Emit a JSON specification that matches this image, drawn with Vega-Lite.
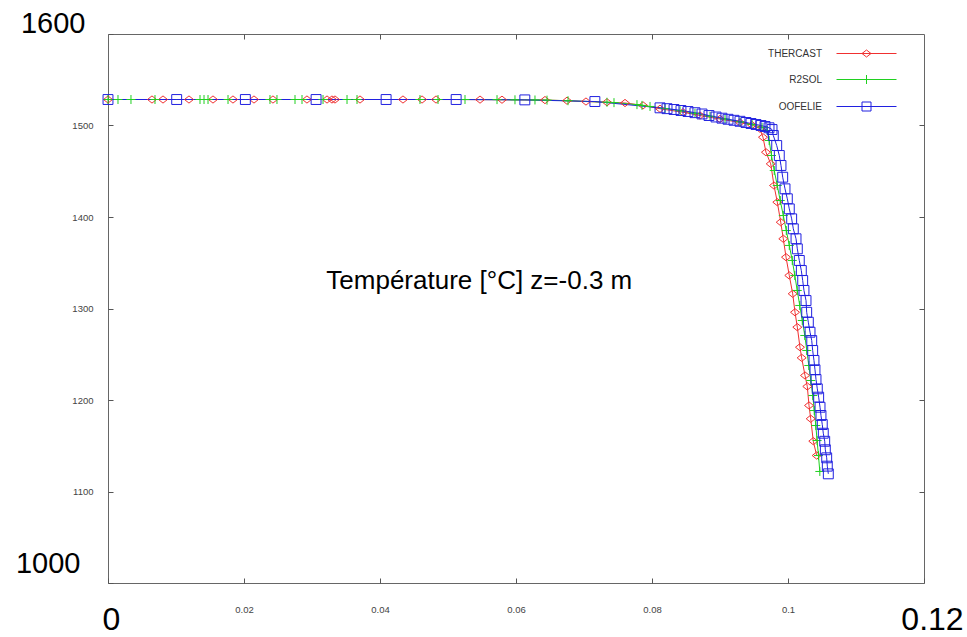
{
 "$schema": "https://vega.github.io/schema/vega-lite/v6.json",
 "width": 816, "height": 549,
 "autosize": {"type": "none"},
 "padding": {"left": 108, "top": 34, "right": 43, "bottom": 54},
 "background": "white",
 "config": {"view": {"stroke": "#666", "strokeWidth": 1}, "font": "Liberation Sans"},
 "datasets": {"d": [
  {"s":"THERCAST","x":0,"y":1528.4},{"s":"THERCAST","x":0.00647,"y":1528.4},{"s":"THERCAST","x":0.00809,"y":1528.4},{"s":"THERCAST","x":0.01191,"y":1528.4},{"s":"THERCAST","x":0.01544,"y":1528.4},{"s":"THERCAST","x":0.01838,"y":1528.4},{"s":"THERCAST","x":0.02147,"y":1528.4},{"s":"THERCAST","x":0.02426,"y":1528.4},{"s":"THERCAST","x":0.02926,"y":1528.4},{"s":"THERCAST","x":0.03221,"y":1528.4},{"s":"THERCAST","x":0.03294,"y":1528.4},{"s":"THERCAST","x":0.03338,"y":1528.4},{"s":"THERCAST","x":0.03706,"y":1528.4},{"s":"THERCAST","x":0.04338,"y":1528.4},{"s":"THERCAST","x":0.04618,"y":1528.4},{"s":"THERCAST","x":0.04824,"y":1528.4},{"s":"THERCAST","x":0.05471,"y":1528.3},{"s":"THERCAST","x":0.05794,"y":1528.2},{"s":"THERCAST","x":0.06426,"y":1527.8},{"s":"THERCAST","x":0.0675,"y":1527.1},{"s":"THERCAST","x":0.07029,"y":1526.2},{"s":"THERCAST","x":0.07338,"y":1525.4},{"s":"THERCAST","x":0.07603,"y":1524.6},{"s":"THERCAST","x":0.07868,"y":1522.0},{"s":"THERCAST","x":0.08118,"y":1518.3},{"s":"THERCAST","x":0.08456,"y":1514.5},{"s":"THERCAST","x":0.08706,"y":1510.9},{"s":"THERCAST","x":0.09,"y":1507.1},{"s":"THERCAST","x":0.09294,"y":1503.3},{"s":"THERCAST","x":0.09471,"y":1500.5},{"s":"THERCAST","x":0.09588,"y":1496.4},{"s":"THERCAST","x":0.09632,"y":1487.2},{"s":"THERCAST","x":0.09676,"y":1470.8},{"s":"THERCAST","x":0.09746,"y":1458.1},{"s":"THERCAST","x":0.09794,"y":1434.4},{"s":"THERCAST","x":0.09843,"y":1416.2},{"s":"THERCAST","x":0.09893,"y":1394.3},{"s":"THERCAST","x":0.09931,"y":1376.2},{"s":"THERCAST","x":0.09971,"y":1356.1},{"s":"THERCAST","x":0.10019,"y":1336.1},{"s":"THERCAST","x":0.10069,"y":1316.1},{"s":"THERCAST","x":0.10103,"y":1295.9},{"s":"THERCAST","x":0.10137,"y":1279.6},{"s":"THERCAST","x":0.10176,"y":1257.7},{"s":"THERCAST","x":0.10201,"y":1246.1},{"s":"THERCAST","x":0.1025,"y":1226.8},{"s":"THERCAST","x":0.10284,"y":1214.8},{"s":"THERCAST","x":0.10309,"y":1194.0},{"s":"THERCAST","x":0.10334,"y":1179.5},{"s":"THERCAST","x":0.10372,"y":1155.0},{"s":"THERCAST","x":0.10422,"y":1139.3},
  {"s":"R2SOL","x":0,"y":1528.4},{"s":"R2SOL","x":0.00147,"y":1528.4},{"s":"R2SOL","x":0.00338,"y":1528.4},{"s":"R2SOL","x":0.00691,"y":1528.4},{"s":"R2SOL","x":0.01353,"y":1528.4},{"s":"R2SOL","x":0.01412,"y":1528.4},{"s":"R2SOL","x":0.01471,"y":1528.4},{"s":"R2SOL","x":0.01765,"y":1528.4},{"s":"R2SOL","x":0.02382,"y":1528.4},{"s":"R2SOL","x":0.02485,"y":1528.4},{"s":"R2SOL","x":0.0275,"y":1528.4},{"s":"R2SOL","x":0.02853,"y":1528.4},{"s":"R2SOL","x":0.03162,"y":1528.4},{"s":"R2SOL","x":0.03515,"y":1528.4},{"s":"R2SOL","x":0.03662,"y":1528.4},{"s":"R2SOL","x":0.04588,"y":1528.4},{"s":"R2SOL","x":0.04853,"y":1528.4},{"s":"R2SOL","x":0.0525,"y":1528.4},{"s":"R2SOL","x":0.05721,"y":1528.3},{"s":"R2SOL","x":0.05985,"y":1528.1},{"s":"R2SOL","x":0.06279,"y":1527.9},{"s":"R2SOL","x":0.06456,"y":1527.7},{"s":"R2SOL","x":0.06765,"y":1527.1},{"s":"R2SOL","x":0.07338,"y":1525.4},{"s":"R2SOL","x":0.07441,"y":1525.0},{"s":"R2SOL","x":0.07779,"y":1522.8},{"s":"R2SOL","x":0.07853,"y":1522.0},{"s":"R2SOL","x":0.07971,"y":1520.8},{"s":"R2SOL","x":0.08191,"y":1518.6},{"s":"R2SOL","x":0.08412,"y":1516.1},{"s":"R2SOL","x":0.08632,"y":1513.3},{"s":"R2SOL","x":0.08853,"y":1510.1},{"s":"R2SOL","x":0.09074,"y":1507.1},{"s":"R2SOL","x":0.09294,"y":1504.0},{"s":"R2SOL","x":0.09471,"y":1501.1},{"s":"R2SOL","x":0.09618,"y":1498.0},{"s":"R2SOL","x":0.09696,"y":1494.5},{"s":"R2SOL","x":0.09723,"y":1483.6},{"s":"R2SOL","x":0.09757,"y":1467.2},{"s":"R2SOL","x":0.09798,"y":1450.8},{"s":"R2SOL","x":0.09842,"y":1434.4},{"s":"R2SOL","x":0.09886,"y":1418.0},{"s":"R2SOL","x":0.09931,"y":1401.6},{"s":"R2SOL","x":0.09975,"y":1385.2},{"s":"R2SOL","x":0.10019,"y":1368.9},{"s":"R2SOL","x":0.10063,"y":1352.5},{"s":"R2SOL","x":0.101,"y":1336.1},{"s":"R2SOL","x":0.10136,"y":1319.7},{"s":"R2SOL","x":0.10173,"y":1303.3},{"s":"R2SOL","x":0.1021,"y":1286.9},{"s":"R2SOL","x":0.10247,"y":1270.5},{"s":"R2SOL","x":0.10276,"y":1254.1},{"s":"R2SOL","x":0.10306,"y":1237.7},{"s":"R2SOL","x":0.10335,"y":1221.3},{"s":"R2SOL","x":0.10364,"y":1204.9},{"s":"R2SOL","x":0.10386,"y":1188.5},{"s":"R2SOL","x":0.10409,"y":1172.1},{"s":"R2SOL","x":0.10428,"y":1155.7},{"s":"R2SOL","x":0.10448,"y":1139.3},{"s":"R2SOL","x":0.10468,"y":1121.9},
  {"s":"OOFELIE","x":0,"y":1528.4},{"s":"OOFELIE","x":0.0101,"y":1528.4},{"s":"OOFELIE","x":0.0202,"y":1528.4},{"s":"OOFELIE","x":0.0306,"y":1528.4},{"s":"OOFELIE","x":0.0409,"y":1528.4},{"s":"OOFELIE","x":0.0512,"y":1528.4},{"s":"OOFELIE","x":0.0613,"y":1528.0},{"s":"OOFELIE","x":0.0716,"y":1526.2},{"s":"OOFELIE","x":0.08118,"y":1519.3},{"s":"OOFELIE","x":0.08221,"y":1518.4},{"s":"OOFELIE","x":0.08324,"y":1517.5},{"s":"OOFELIE","x":0.08426,"y":1516.4},{"s":"OOFELIE","x":0.08529,"y":1515.3},{"s":"OOFELIE","x":0.08632,"y":1514.0},{"s":"OOFELIE","x":0.08735,"y":1512.6},{"s":"OOFELIE","x":0.08838,"y":1510.9},{"s":"OOFELIE","x":0.08941,"y":1509.3},{"s":"OOFELIE","x":0.09029,"y":1508.0},{"s":"OOFELIE","x":0.09118,"y":1506.8},{"s":"OOFELIE","x":0.09206,"y":1505.7},{"s":"OOFELIE","x":0.09294,"y":1504.6},{"s":"OOFELIE","x":0.09382,"y":1503.3},{"s":"OOFELIE","x":0.09456,"y":1502.2},{"s":"OOFELIE","x":0.09529,"y":1501.1},{"s":"OOFELIE","x":0.09603,"y":1500.0},{"s":"OOFELIE","x":0.09662,"y":1498.9},{"s":"OOFELIE","x":0.09721,"y":1497.5},{"s":"OOFELIE","x":0.09765,"y":1495.6},{"s":"OOFELIE","x":0.09784,"y":1489.1},{"s":"OOFELIE","x":0.09834,"y":1478.1},{"s":"OOFELIE","x":0.09872,"y":1467.2},{"s":"OOFELIE","x":0.09897,"y":1456.3},{"s":"OOFELIE","x":0.09922,"y":1443.5},{"s":"OOFELIE","x":0.09956,"y":1430.8},{"s":"OOFELIE","x":0.0999,"y":1419.9},{"s":"OOFELIE","x":0.10019,"y":1408.9},{"s":"OOFELIE","x":0.10054,"y":1398.0},{"s":"OOFELIE","x":0.10078,"y":1387.1},{"s":"OOFELIE","x":0.10118,"y":1376.2},{"s":"OOFELIE","x":0.10137,"y":1365.2},{"s":"OOFELIE","x":0.10166,"y":1352.5},{"s":"OOFELIE","x":0.10196,"y":1341.5},{"s":"OOFELIE","x":0.10216,"y":1330.6},{"s":"OOFELIE","x":0.10235,"y":1319.7},{"s":"OOFELIE","x":0.10265,"y":1308.7},{"s":"OOFELIE","x":0.10275,"y":1295.9},{"s":"OOFELIE","x":0.10299,"y":1285.0},{"s":"OOFELIE","x":0.10324,"y":1274.1},{"s":"OOFELIE","x":0.10349,"y":1265.0},{"s":"OOFELIE","x":0.10363,"y":1254.1},{"s":"OOFELIE","x":0.10382,"y":1243.2},{"s":"OOFELIE","x":0.10397,"y":1233.0},{"s":"OOFELIE","x":0.10412,"y":1222.4},{"s":"OOFELIE","x":0.10431,"y":1212.2},{"s":"OOFELIE","x":0.10451,"y":1203.1},{"s":"OOFELIE","x":0.10471,"y":1192.1},{"s":"OOFELIE","x":0.10485,"y":1183.1},{"s":"OOFELIE","x":0.10504,"y":1173.2},{"s":"OOFELIE","x":0.10519,"y":1163.7},{"s":"OOFELIE","x":0.1054,"y":1154.9},{"s":"OOFELIE","x":0.10549,"y":1145.6},{"s":"OOFELIE","x":0.10569,"y":1136.8},{"s":"OOFELIE","x":0.10578,"y":1127.7},{"s":"OOFELIE","x":0.10593,"y":1119.3}
 ]},
 "layer": [
  {
   "data": {"name": "d"},
   "transform": [{"filter": "datum.s == 'THERCAST'"}],
   "mark": {"type": "line", "strokeWidth": 1, "color": "#f03030"},
   "encoding": {
    "x": {"field": "x", "type": "quantitative", "scale": {"domain": [0, 0.12], "nice": false, "zero": false},
     "axis": {"orient": "bottom", "values": [0, 0.02, 0.04, 0.06, 0.08, 0.1, 0.12], "format": ".2~f", "title": null, "domain": false, "grid": false, "tickSize": -5, "tickColor": "#555", "labelFont": "Liberation Sans", "labelOverlap": false, "labelFlush": false, "labelBound": false,
      "labelFontSize": {"condition": {"test": "datum.value == 0 || datum.value == 0.12", "value": 32}, "value": 9.5},
      "labelColor": {"condition": {"test": "datum.value == 0 || datum.value == 0.12", "value": "#000"}, "value": "#444"},
      "labelOffset": {"condition": [{"test": "datum.value == 0", "value": 3}, {"test": "datum.value == 0.12", "value": 8}], "value": 0},
      "labelPadding": 26}},
    "y": {"field": "y", "type": "quantitative", "scale": {"domain": [1000, 1600], "nice": false, "zero": false},
     "axis": {"orient": "left", "values": [1000, 1100, 1200, 1300, 1400, 1500, 1600], "format": "d", "title": null, "domain": false, "grid": false, "tickSize": -5, "tickColor": "#555", "labelFont": "Liberation Sans", "labelOverlap": false, "labelFlush": false, "labelBound": false,
      "labelFontSize": {"condition": {"test": "datum.value == 1600 || datum.value == 1000", "value": 29}, "value": 9.5},
      "labelColor": {"condition": {"test": "datum.value == 1600 || datum.value == 1000", "value": "#000"}, "value": "#444"},
      "labelOffset": {"condition": [{"test": "datum.value == 1600", "value": -11}, {"test": "datum.value == 1000", "value": -20}], "value": 0},
      "labelPadding": {"condition": [{"test": "datum.value == 1600", "value": 28}, {"test": "datum.value == 1000", "value": 33}], "value": 20}}}
   }
  },
  {
   "data": {"name": "d"},
   "transform": [{"filter": "datum.s == 'R2SOL'"}],
   "mark": {"type": "line", "strokeWidth": 1, "color": "#20d020"},
   "encoding": {
    "x": {"field": "x", "type": "quantitative", "scale": {"domain": [0, 0.12], "nice": false, "zero": false}, "axis": null},
    "y": {"field": "y", "type": "quantitative", "scale": {"domain": [1000, 1600], "nice": false, "zero": false}, "axis": null}
   }
  },
  {
   "data": {"name": "d"},
   "transform": [{"filter": "datum.s == 'OOFELIE'"}],
   "mark": {"type": "line", "strokeWidth": 1, "color": "#2020e0"},
   "encoding": {
    "x": {"field": "x", "type": "quantitative", "scale": {"domain": [0, 0.12], "nice": false, "zero": false}, "axis": null},
    "y": {"field": "y", "type": "quantitative", "scale": {"domain": [1000, 1600], "nice": false, "zero": false}, "axis": null}
   }
  },
  {
   "data": {"name": "d"},
   "mark": {"type": "point", "filled": false, "strokeWidth": 1, "size": 81, "opacity": 1},
   "encoding": {
    "x": {"field": "x", "type": "quantitative", "scale": {"domain": [0, 0.12], "nice": false, "zero": false},
     "axis": {"orient": "top", "values": [0.02, 0.04, 0.06, 0.08, 0.1], "labels": false, "title": null, "domain": false, "grid": false, "tickSize": -5, "tickColor": "#555"}},
    "y": {"field": "y", "type": "quantitative", "scale": {"domain": [1000, 1600], "nice": false, "zero": false},
     "axis": {"orient": "right", "values": [1100, 1200, 1300, 1400, 1500], "labels": false, "title": null, "domain": false, "grid": false, "tickSize": -5, "tickColor": "#555"}},
    "color": {"field": "s", "type": "nominal", "scale": {"domain": ["THERCAST", "R2SOL", "OOFELIE"], "range": ["#f03030", "#20d020", "#2020e0"]},
     "legend": {"title": null, "orient": "none", "legendX": 753, "legendY": 14, "padding": 0, "labelAlign": "right", "labelOffset": -50, "symbolSize": 100, "labelFontSize": 10, "labelColor": "#333", "labelFont": "Liberation Sans", "rowPadding": 14, "symbolStrokeWidth": 1, "symbolFillColor": "transparent",
      "symbolType": {"expr": "datum.value == 'THERCAST' ? 'M-6,0H6M0,-0.7L0.9,0L0,0.7L-0.9,0Z' : datum.value == 'R2SOL' ? 'M-6,0H6M0,-0.9V0.9' : 'M-6,0H6M-0.9,-0.9H0.9V0.9H-0.9Z'"}}},
    "shape": {"field": "s", "type": "nominal", "scale": {"domain": ["OOFELIE", "R2SOL", "THERCAST"], "range": ["M-1.1,-1.1H1.1V1.1H-1.1Z", "M-1,0H1M0,-1V1", "M0,-0.8L1,0L0,0.8L-1,0Z"]}, "legend": null}
   }
  },
  {
   "data": {"values": [{"t": "Température [°C] z=-0.3 m"}]},
   "mark": {"type": "text", "fontSize": 26, "font": "Liberation Sans", "color": "#000"},
   "encoding": {
    "x": {"datum": 0.0546, "type": "quantitative", "axis": null},
    "y": {"datum": 1330, "type": "quantitative", "axis": null},
    "text": {"field": "t"}
   }
  }
 ],
 "resolve": {"axis": {"x": "independent", "y": "independent"}}
}
